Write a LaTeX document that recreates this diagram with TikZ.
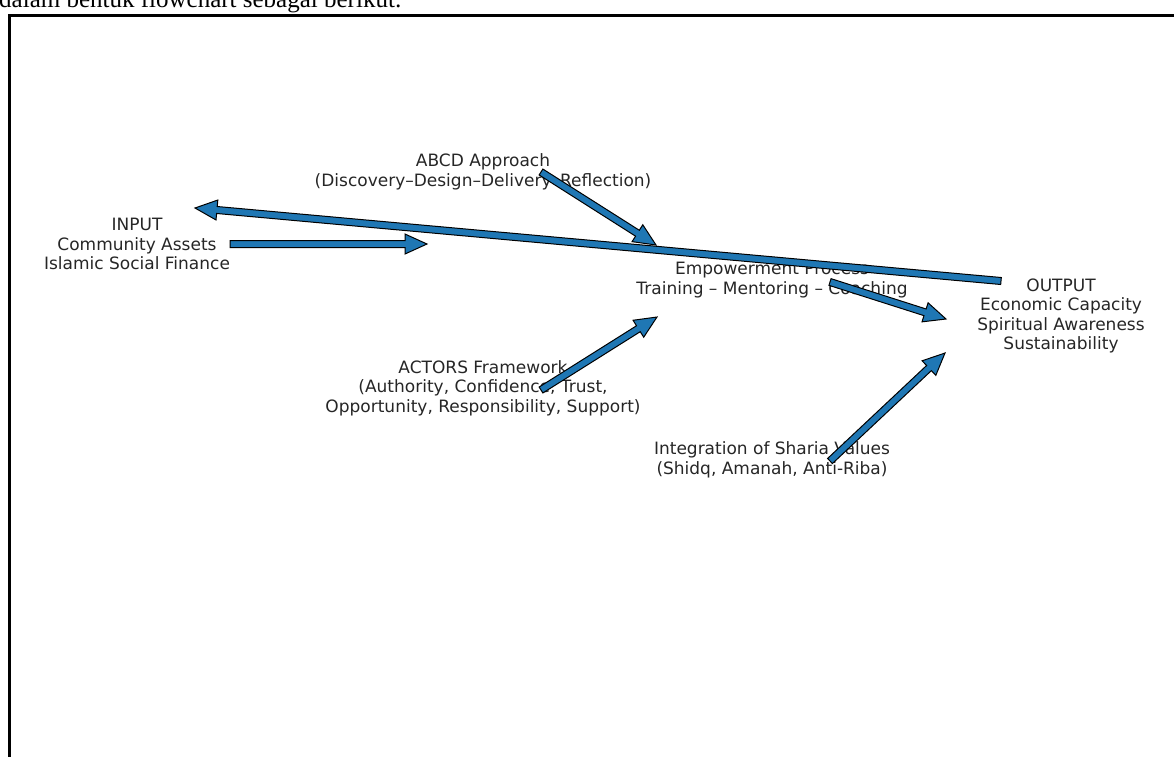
\documentclass[tikz,border=0pt]{standalone}
\usepackage{fontspec}
\setmainfont{DejaVu Sans}
\newfontfamily\capfont{Liberation Serif}
\usetikzlibrary{calc}
\definecolor{arrowFill}{HTML}{1F77B4}
\def\shaftw{3.5pt}
\def\headw{10pt}
\def\headlen{22pt}
\tikzset{
  txt/.style={align=center, inner sep=0pt, text=black!85,
    font=\fontsize{17}{19.5}\selectfont},
  fatarrow/.style={fill=arrowFill, draw=black, line width=1pt, line join=miter}
}
% block arrow from #1 (tail) to #2 (tip)
\newcommand{\blockarrow}[2]{%
  \coordinate (hb) at ($(#2)!\headlen!(#1)$);
  \filldraw[fatarrow] ($(#1)!\shaftw!90:(#2)$) -- ($(hb)!\shaftw!90:(#2)$)
    -- ($(hb)!\headw!90:(#2)$) -- (#2) -- ($(hb)!\headw!-90:(#2)$)
    -- ($(hb)!\shaftw!-90:(#2)$) -- ($(#1)!\shaftw!-90:(#2)$) -- cycle;}

\begin{document}
\begin{tikzpicture}[x=1pt,y=-1pt]
  \useasboundingbox (0,0) rectangle (1174,756);
  \clip (0,0) rectangle (1174,756);

  % line of text above the frame
  \node[anchor=base west, inner sep=0pt, font=\capfont\fontsize{25}{30}\selectfont]
    (caption) at (-1,7.5) {dalam bentuk flowchart sebagai berikut:};
  % frame
  \draw[line width=3pt] (9,800) -- (9,15.5) -- (1200,15.5);

  % blocks
  \node[txt] (input)   at (137,244) {INPUT\\Community Assets\\Islamic Social Finance};
  \node[txt] (abcd)    at (483,172) {ABCD Approach\\(Discovery–Design–Delivery–Reflection)};
  \node[txt] (empower) at (772,280) {Empowerment Process\\Training – Mentoring – Coaching};
  \node[txt] (output)  at (1061,316) {OUTPUT\\Economic Capacity\\Spiritual Awareness\\Sustainability};
  \node[txt] (actors)  at (483,388) {ACTORS Framework\\(Authority, Confidence, Trust,\\Opportunity, Responsibility, Support)};
  \node[txt] (sharia)  at (772,460) {Integration of Sharia Values\\(Shidq, Amanah, Anti-Riba)};

  % arrow ends
  \coordinate (inTail)     at (230,244);
  \coordinate (inTip)      at (427,244);
  \coordinate (abcdTail)   at (541,172);
  \coordinate (abcdTip)    at (656,245);
  \coordinate (actTail)    at (541,390);
  \coordinate (actTip)     at (657,317);
  \coordinate (empTail)    at (830,282);
  \coordinate (empTip)     at (946,319);
  \coordinate (shTail)     at (830,461);
  \coordinate (shTip)      at (945,353);
  \coordinate (backTail)   at (1001,281);
  \coordinate (backTip)    at (195,208);

  % arrows
  \blockarrow{inTail}{inTip}
  \blockarrow{abcdTail}{abcdTip}
  \blockarrow{actTail}{actTip}
  \blockarrow{empTail}{empTip}
  \blockarrow{shTail}{shTip}
  \blockarrow{backTail}{backTip}
\end{tikzpicture}
\end{document}
